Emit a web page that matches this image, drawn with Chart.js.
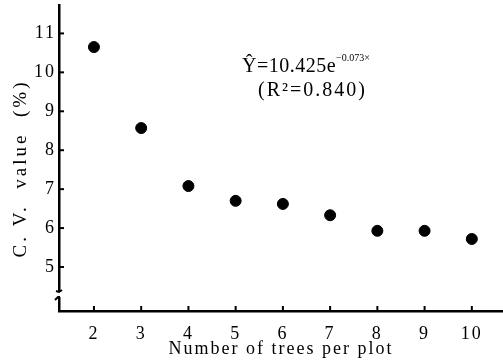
<!DOCTYPE html>
<html><head><meta charset="utf-8">
<script src="https://cdn.jsdelivr.net/npm/chart.js"></script>
<style>html,body{margin:0;padding:0;background:#fff}#w{width:503px;height:362px}</style>
</head><body><div id="w"><canvas id="c"></canvas></div>
<script>
const trees = [2, 3, 4, 5, 6, 7, 8, 9, 10];
const cvValues = [10.65, 8.57, 7.08, 6.70, 6.62, 6.33, 5.93, 5.93, 5.72];
const yTickLabels = [5, 6, 7, 8, 9, 10, 11];
const xTickLabels = [2, 3, 4, 5, 6, 7, 8, 9, 10];
const yTitle = 'C. V.  value  (%)';
const FONT = "'Liberation Serif', 'DejaVu Serif', serif";

const spacing = {
  id: 'spacing',
  beforeLayout(chart) { chart.ctx.letterSpacing = '2px'; },
  beforeDraw(chart) { chart.ctx.letterSpacing = '2px'; }
};

const decor = {
  id: 'decor',
  afterDraw(chart) {
    const ctx = chart.ctx;
    const xs = chart.scales.x, ys = chart.scales.y;
    const ca = chart.chartArea;
    ctx.save();
    ctx.strokeStyle = '#000';
    ctx.lineWidth = 2;
    yTickLabels.forEach(v => {
      const p = ys.getPixelForValue(v);
      ctx.beginPath(); ctx.moveTo(ca.left, p); ctx.lineTo(ca.left + 5, p); ctx.stroke();
    });
    xTickLabels.forEach(v => {
      const p = xs.getPixelForValue(v);
      ctx.beginPath(); ctx.moveTo(p, ca.bottom); ctx.lineTo(p, ca.bottom - 5); ctx.stroke();
    });
    // axis break
    ctx.fillStyle = '#fff';
    ctx.fillRect(ca.left - 3, ca.bottom - 19, 6, 5);
    ctx.lineWidth = 2;
    ctx.beginPath();
    ctx.moveTo(ca.left - 3, ca.bottom - 20); ctx.lineTo(ca.left, ca.bottom - 19); ctx.lineTo(ca.left + 3, ca.bottom - 21);
    ctx.stroke();
    ctx.beginPath();
    ctx.moveTo(ca.left - 4, ca.bottom - 11); ctx.lineTo(ca.left - 1, ca.bottom - 14); ctx.lineTo(ca.left + 1, ca.bottom - 14);
    ctx.stroke();
    // y title
    ctx.fillStyle = '#000';
    ctx.font = "19px " + FONT;
    ctx.letterSpacing = '0px';
    const w0 = ctx.measureText(yTitle).width;
    const ls = Math.max(0, (175 - w0) / (yTitle.length - 1));
    ctx.letterSpacing = ls + 'px';
    ctx.save();
    ctx.translate(26, 170);
    ctx.rotate(-Math.PI / 2);
    ctx.textAlign = 'center';
    ctx.textBaseline = 'alphabetic';
    ctx.fillText(yTitle, ls / 2, 0);
    ctx.restore();
    // equation
    ctx.textBaseline = 'alphabetic';
    ctx.textAlign = 'left';
    ctx.letterSpacing = '0.5px';
    ctx.font = "20px " + FONT;
    let x = 242, y = 72;
    const main = "\u0176=10.425e";
    ctx.fillText(main, x, y);
    x += ctx.measureText(main).width;
    ctx.letterSpacing = '0px';
    ctx.font = "10px " + FONT;
    ctx.fillText("\u22120.073\u00d7", x, y - 11);
    ctx.letterSpacing = '2px';
    ctx.font = "20px " + FONT;
    ctx.fillText("(R\u00b2=0.840)", 258, 96);
    ctx.restore();
  }
};

new Chart(document.getElementById('c'), {
  type: 'scatter',
  data: {
    datasets: [{
      data: trees.map((t, i) => ({x: t, y: cvValues[i]})),
      backgroundColor: '#000', borderColor: '#000',
      pointRadius: 5.5, pointHoverRadius: 5.5
    }]
  },
  options: {
    responsive: true, maintainAspectRatio: false, animation: false,
    layout: {autoPadding: false, padding: {top: 5, right: 0, left: 0, bottom: 0}},
    plugins: {legend: {display: false}, tooltip: {enabled: false}},
    scales: {
      x: {
        type: 'linear', min: 1.26, max: 10.66,
        afterFit: s => { s.height = 51; s.paddingLeft = 0; s.paddingRight = 0; },
        afterBuildTicks: s => { s.ticks = xTickLabels.map(v => ({value: v})); },
        grid: {display: false, drawTicks: false},
        border: {display: true, color: '#000', width: 2.5},
        ticks: {color: '#000', font: {family: FONT, size: 18}, padding: 12, maxRotation: 0},
        title: {display: true, text: 'Number of trees per plot', color: '#000',
                font: {family: FONT, size: 18}, padding: {top: 0, bottom: 2}}
      },
      y: {
        type: 'linear', min: 3.87, max: 11.73,
        afterFit: s => { s.width = 59; s.paddingTop = 0; s.paddingBottom = 0; },
        afterBuildTicks: s => { s.ticks = yTickLabels.map(v => ({value: v})); },
        grid: {display: false, drawTicks: false},
        border: {display: true, color: '#000', width: 2.5},
        ticks: {color: '#000', font: {family: FONT, size: 18}, padding: 3},
        title: {display: false, text: yTitle}
      }
    }
  },
  plugins: [spacing, decor]
});
</script></body></html>
